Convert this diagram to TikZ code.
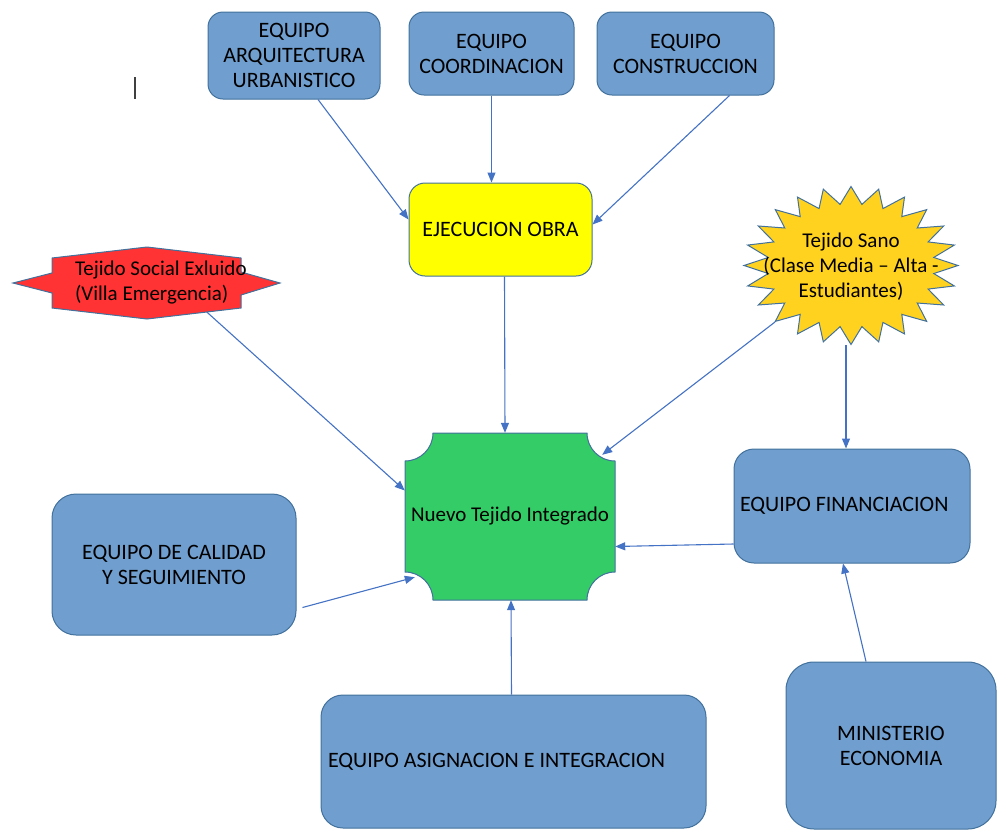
\documentclass[tikz,border=0pt]{standalone}
\usepackage{fontspec}
\setmainfont{Carlito}
\usetikzlibrary{arrows.meta}

\definecolor{boxblue}{RGB}{112,158,207}
\definecolor{edgeblue}{RGB}{65,113,156}
\definecolor{linkblue}{RGB}{68,114,196}
\definecolor{obrayellow}{RGB}{255,255,0}
\definecolor{nuevogreen}{RGB}{51,204,102}
\definecolor{socialred}{RGB}{255,51,51}
\definecolor{sanogold}{RGB}{255,210,32}

\tikzset{
  equipo/.style={draw=edgeblue, fill=boxblue, line width=1pt, rounded corners=#1, align=center, inner sep=0pt,
    font=\fontsize{22}{25}\selectfont},
  equipo/.default=15pt,
  link/.style={draw=linkblue, line width=1.1pt, -{Triangle[length=10pt,width=8pt]}},
  shapeline/.style={draw=edgeblue, line width=1pt},
}

\begin{document}
\begin{tikzpicture}[x=1pt,y=-1pt,font=\fontsize{21}{25}\selectfont]
\useasboundingbox (0,0) rectangle (997,831);

% Teams on top and the works box
\node[equipo, minimum width=172pt, minimum height=87pt] (arq) at (294,55.5) {EQUIPO\\ARQUITECTURA\\URBANISTICO};
\node[equipo, minimum width=165pt, minimum height=83pt] (coord) at (491.5,53.5) {EQUIPO\\COORDINACION};
\node[equipo, minimum width=177pt, minimum height=83pt] (constr) at (685.5,53.5) {EQUIPO\\CONSTRUCCION};
\node[equipo=16pt, fill=obrayellow, minimum width=183pt, minimum height=93pt] (ejec) at (500.5,229.5) {EJECUCION OBRA};

% stray cursor mark
\draw[line width=2pt, darkgray] (135,77) -- (135,99);

% Excluded fabric (red star) and healthy fabric (gold star)
\filldraw[shapeline, fill=socialred] (13,283) -- (52,273) -- (52,258) -- (147,247) -- (241,258) -- (241,272)
  -- (280,283) -- (241,295) -- (241,308) -- (147,319) -- (52,308) -- (52,293) -- cycle;
\node[align=flush left, text width=180pt, inner sep=0pt, minimum height=58pt] (social) at (165,283) {Tejido Social Exluido\\(Villa Emergencia)};

\filldraw[shapeline, fill=sanogold] plot[domain=0:47, samples=48, variable=\k]
  ({851+107*(1-0.22*mod(round(\k),2))*cos(7.5*\k)}, {265.5+79*(1-0.22*mod(round(\k),2))*sin(7.5*\k)}) -- cycle;
\node[align=center, inner sep=0pt] (sano) at (851,267) {Tejido Sano\\(Clase Media -- Alta -\\Estudiantes)};

% New integrated fabric (plaque with hollow corners)
\filldraw[shapeline, fill=nuevogreen] (433,433) -- (587,433) arc[start angle=180,end angle=90,radius=28]
  -- (615,572) arc[start angle=270,end angle=180,radius=28]
  -- (433,600) arc[start angle=0,end angle=-90,radius=28]
  -- (405,461) arc[start angle=90,end angle=0,radius=28] -- cycle;
\node[inner sep=0pt, minimum width=210pt, minimum height=167pt] (nuevo) at (510,516.5) {Nuevo Tejido Integrado};

% Remaining teams
\node[equipo=24pt, minimum width=244pt, minimum height=141pt] (calidad) at (174,564.5) {EQUIPO DE CALIDAD\\Y SEGUIMIENTO};
\node[equipo=20pt, minimum width=236pt, minimum height=114pt, text width=224pt, align=flush left, inner xsep=6pt] (fin) at (852,506) {EQUIPO FINANCIACION};
\node[equipo=22pt, minimum width=385pt, minimum height=133pt, text width=371pt, align=flush left, inner xsep=7pt] (asig) at (513.5,761.5) {EQUIPO ASIGNACION E INTEGRACION};
\node[equipo=28pt, minimum width=210pt, minimum height=167pt] (min) at (891,745.5) {MINISTERIO\\ECONOMIA};

% Connectors
\draw[link] ([xshift=24pt]arq.south) -- ([yshift=10pt]ejec.west);
\draw[link] (coord.south) -- ([xshift=-9pt]ejec.north);
\draw[link] ([xshift=44pt]constr.south) -- ([yshift=5pt]ejec.east);
\draw[link] ([xshift=4pt]ejec.south) -- ([xshift=-5pt]nuevo.north);
\draw[link] ([xshift=42pt]social.south) -- ([yshift=26pt]nuevo.west);
\draw[link] ([xshift=-76pt,yshift=-55pt]sano.center) -- ([xshift=-13pt,yshift=-22pt]nuevo.north east);
\draw[link] ([xshift=-5pt,yshift=-78pt]sano.center) -- ([xshift=-6pt]fin.north);
\draw[link] ([yshift=-38pt]fin.west) -- ([yshift=-30pt]nuevo.east);
\draw[link] ([xshift=6pt,yshift=-43pt]calidad.east) -- ([xshift=10pt,yshift=23pt]nuevo.south west);
\draw[link] ([xshift=-2pt]asig.north) -- ([xshift=1pt]nuevo.south);
\draw[link] ([xshift=-25pt]min.north) -- ([xshift=-9pt]fin.south);
\end{tikzpicture}
\end{document}
